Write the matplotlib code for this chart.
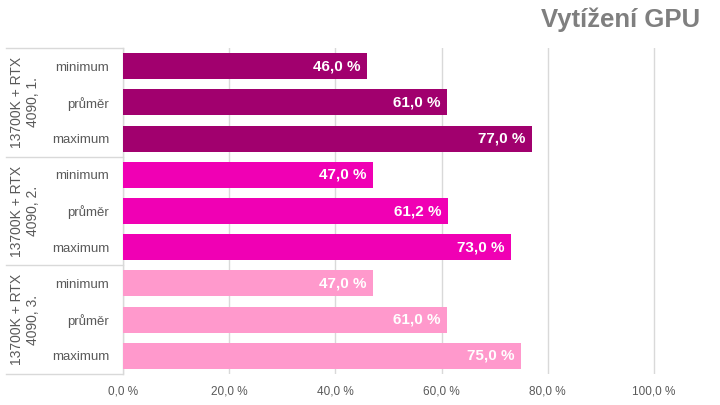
import matplotlib
matplotlib.use("Agg")
import matplotlib.pyplot as plt
from matplotlib.transforms import blended_transform_factory

plt.rcParams['font.family'] = ['Liberation Sans', 'DejaVu Sans']

groups = ["13700K + RTX\n4090, 1.", "13700K + RTX\n4090, 2.", "13700K + RTX\n4090, 3."]
metrics = ["minimum", "průměr", "maximum"]
values = [
    [46.0, 61.0, 77.0],
    [47.0, 61.2, 73.0],
    [47.0, 61.0, 75.0],
]
colors = ["#A1006E", "#F000B4", "#FF99CC"]
xticks = [0, 20, 40, 60, 80, 100]
title = "Vytížení GPU"

W, H = 720, 405
fig = plt.figure(figsize=(W / 100, H / 100), dpi=100)
left_px, right_px, top_px, bot_px = 123, 700, 48, 374
ax = fig.add_axes([left_px / W, 1 - bot_px / H, (right_px - left_px) / W, (bot_px - top_px) / H])

xmax = 100 * (right_px - left_px) / (654 - left_px)

ypos = []
labels = []
for gi, g in enumerate(groups):
    for mi, m in enumerate(metrics):
        y = gi * 3 + mi
        ypos.append(y)
        labels.append(m)
        v = values[gi][mi]
        ax.barh(y, v, height=0.72, color=colors[gi], zorder=3)
        ax.text(v - 1.2, y, f"{v:.1f}".replace(".", ",") + " %", ha="right", va="center",
                color="white", fontsize=11, fontweight="bold", zorder=4)

ax.set_ylim(8.5, -0.5)
ax.set_xlim(0, xmax)
ax.set_yticks(ypos)
ax.set_yticklabels(labels, fontsize=9.5, color="#595959")
ax.tick_params(axis="y", length=0, pad=10)
ax.set_xticks(xticks)
ax.set_xticklabels([f"{t:.1f}".replace(".", ",") + " %" for t in xticks], fontsize=8.5, color="#595959")
ax.tick_params(axis="x", length=0, pad=8)
ax.grid(axis="x", color="#D9D9D9", linewidth=1, zorder=0)
for s in ["top", "right", "bottom"]:
    ax.spines[s].set_visible(False)
ax.spines["left"].set_color("#D9D9D9")
ax.spines["left"].set_linewidth(1)

tr = blended_transform_factory(fig.transFigure, ax.transData)
for yb in [-0.5, 2.5, 5.5, 8.5]:
    ax.plot([6 / W, left_px / W], [yb, yb], transform=tr, color="#D9D9D9", linewidth=1, clip_on=False, zorder=5)
for gi, g in enumerate(groups):
    ax.text(25 / W, gi * 3 + 1, g, transform=tr, rotation=90, ha="center", va="center",
            fontsize=10, color="#595959", multialignment="center", linespacing=1.15)

fig.text(700 / W, 1 - 20 / H, title, ha="right", va="center", fontsize=18.5, fontweight="bold", color="#7F7F7F")

fig.savefig("out.png", dpi=100)
